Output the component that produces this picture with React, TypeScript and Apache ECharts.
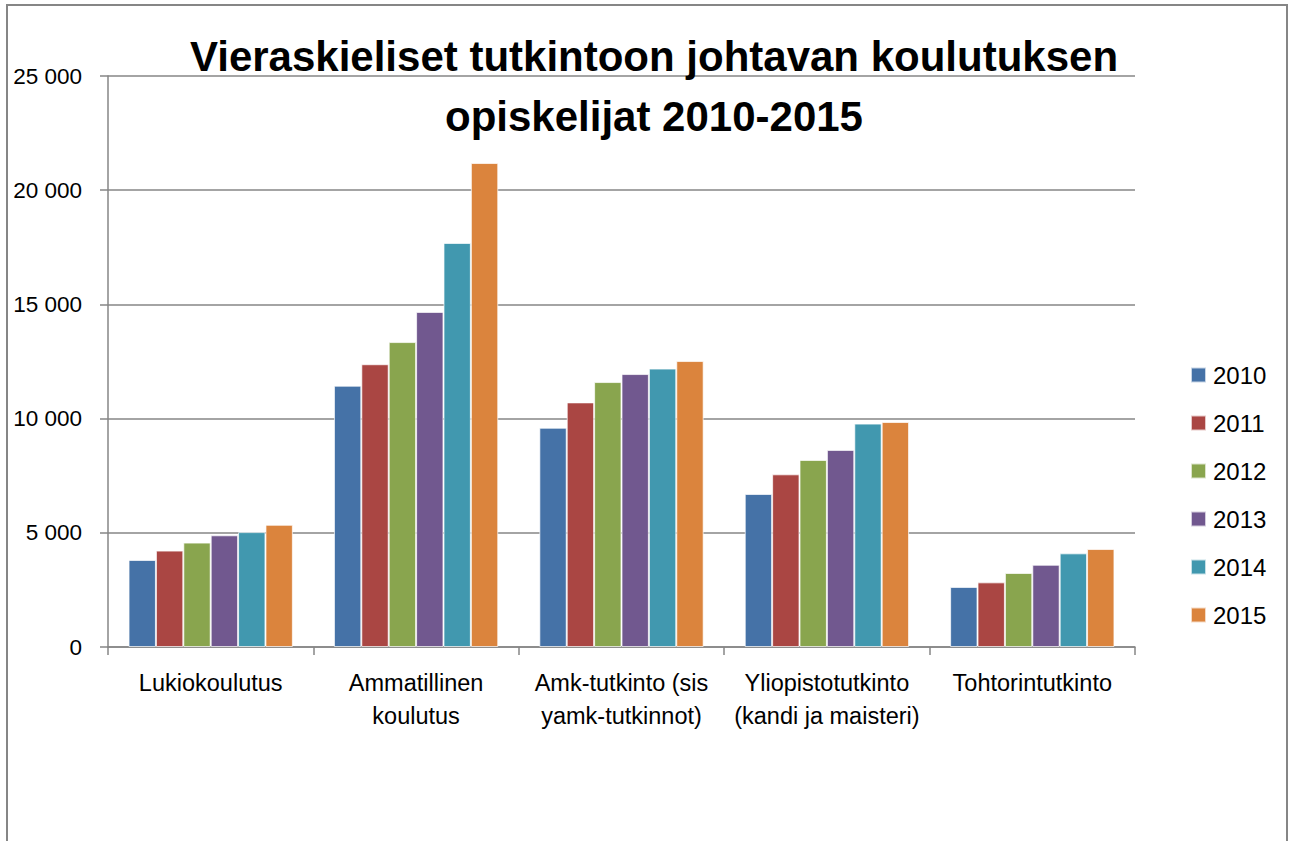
import React, { useEffect, useRef } from "react";
import * as echarts from "echarts";

const categories = [
  "Lukiokoulutus",
  "Ammatillinen\nkoulutus",
  "Amk-tutkinto (sis\nyamk-tutkinnot)",
  "Yliopistotutkinto\n(kandi ja maisteri)",
  "Tohtorintutkinto",
];
const years = ["2010", "2011", "2012", "2013", "2014", "2015"];
const v2010 = [3810, 11440, 9600, 6700, 2630];
const v2011 = [4220, 12380, 10710, 7560, 2830];
const v2012 = [4570, 13350, 11600, 8190, 3240];
const v2013 = [4890, 14670, 11950, 8630, 3600];
const v2014 = [5030, 17690, 12190, 9780, 4100];
const v2015 = [5350, 21190, 12520, 9850, 4290];
const colors = ["#4572A7", "#AA4643", "#89A54E", "#71588F", "#4198AF", "#DB843D"];
const titleLines = ["Vieraskieliset tutkintoon johtavan koulutuksen", "opiskelijat 2010-2015"];

export default function App() {
  const ref = useRef<HTMLDivElement>(null);
  useEffect(() => {
    if (!ref.current) return;
    const chart = echarts.init(ref.current, null, { renderer: "svg" });
    const values = [v2010, v2011, v2012, v2013, v2014, v2015];
    const font = "Liberation Sans";
    chart.setOption({
      animation: false,
      color: colors,
      textStyle: { fontFamily: font },
      title: {
        text: titleLines.join("\n"),
        left: 649,
        textAlign: "center",
        top: 21,
        textStyle: {
          fontFamily: font,
          fontWeight: "bold",
          fontSize: 42,
          lineHeight: 60,
          color: "#000",
        },
      },
      graphic: [
        {
          type: "rect",
          shape: { x: 7, y: 5, width: 1280, height: 880 },
          style: { fill: "none", stroke: "#868686", lineWidth: 2 },
          z: -1,
        },
      ],
      legend: {
        orient: "vertical",
        left: 1185,
        top: 358,
        itemWidth: 15,
        itemHeight: 15,
        itemGap: 24,
        icon: "rect",
        textStyle: { fontSize: 24, color: "#000", fontFamily: font, lineHeight: 24, padding: [0, 0, 0, 2] },
        data: years,
      },
      grid: { left: 108, right: 155, top: 76, bottom: 194 },
      xAxis: {
        type: "category",
        data: categories,
        axisLine: { lineStyle: { color: "#868686", width: 1.5 } },
        axisTick: { show: true, length: 8, lineStyle: { color: "#868686", width: 1.5 } },
        axisLabel: {
          color: "#000",
          fontSize: 23.5,
          lineHeight: 33,
          margin: 19,
          interval: 0,
          fontFamily: font,
        },
      },
      yAxis: {
        type: "value",
        min: 0,
        max: 25000,
        interval: 5000,
        axisLine: { show: true, lineStyle: { color: "#868686", width: 1.5 } },
        axisTick: { show: true, length: 8, lineStyle: { color: "#868686", width: 1.5 } },
        splitLine: { lineStyle: { color: "#868686", width: 1.5 } },
        axisLabel: {
          color: "#000",
          fontSize: 22.5,
          margin: 26,
          fontFamily: font,
          formatter: (v: number) => (v >= 1000 ? `${Math.floor(v / 1000)} ${String(v % 1000).padStart(3, "0")}` : String(v)),
        },
      },
      series: years.map((y, i) => ({
        name: y,
        type: "bar",
        data: values[i],
        barGap: "0%",
        barCategoryGap: "20%",
        itemStyle: { borderColor: "rgba(255,255,255,0.7)", borderWidth: 1 },
      })),
    });
    return () => chart.dispose();
  }, []);
  return (
    <div
      ref={ref}
      style={{ position: "absolute", left: 0, top: 0, width: 1290, height: 841, background: "#fff" }}
    />
  );
}
